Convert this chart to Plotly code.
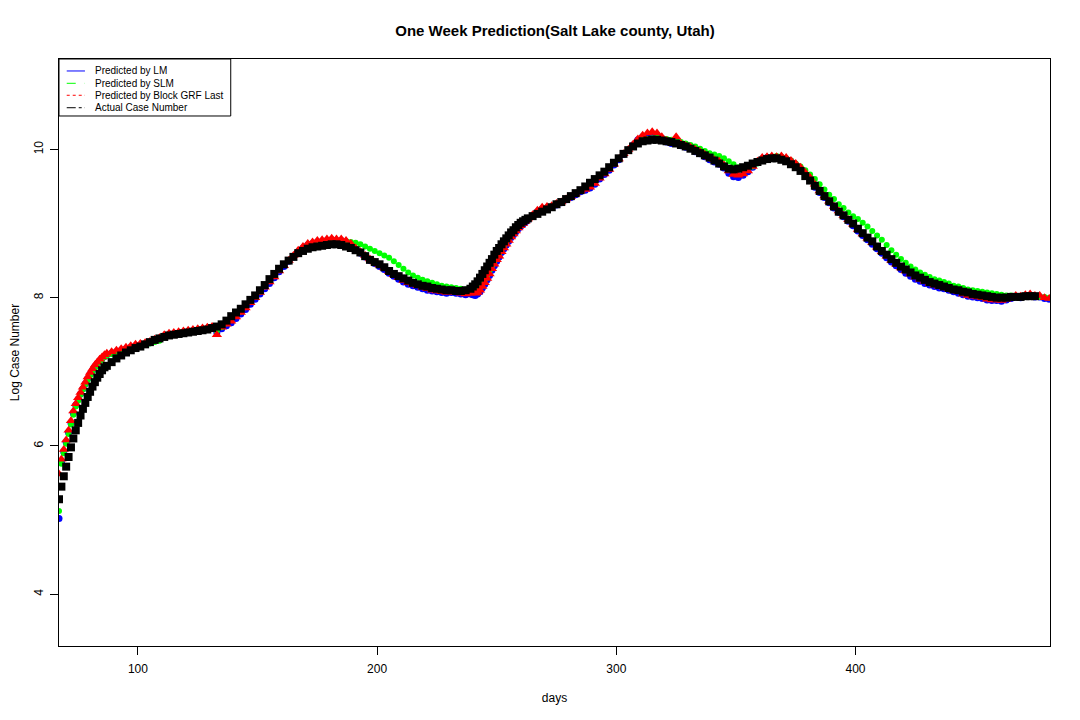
import plotly.graph_objects as go

# days: daily at the start, then every second day
days_actual = list(range(67, 87)) + list(range(87, 476, 2))
days_pred = list(range(67, 87)) + list(range(87, 482, 2))
# extra even days on the steep rise after day 240
days_rise = [240, 242, 244, 246, 248, 250, 252, 254, 256, 258, 260, 262]

# actual log case number
actual = [5.28, 5.45, 5.59, 5.72, 5.85, 5.98, 6.10, 6.21, 6.31, 6.41,
          6.50, 6.58, 6.66, 6.73, 6.80, 6.86, 6.92, 6.97, 7.02, 7.06,
          7.08, 7.13, 7.18, 7.22, 7.26, 7.29, 7.32, 7.34, 7.37, 7.40,
          7.43, 7.45, 7.47, 7.49, 7.50, 7.51, 7.52, 7.53, 7.54, 7.55,
          7.56, 7.57, 7.59, 7.61, 7.64, 7.69, 7.75, 7.80, 7.85, 7.91,
          7.97, 8.03, 8.10, 8.17, 8.25, 8.32, 8.39, 8.45, 8.50, 8.55,
          8.60, 8.63, 8.66, 8.68, 8.69, 8.70, 8.71, 8.72, 8.72, 8.71,
          8.69, 8.67, 8.64, 8.61, 8.56, 8.51, 8.48, 8.45, 8.41, 8.36,
          8.32, 8.29, 8.26, 8.23, 8.20, 8.18, 8.16, 8.15, 8.13, 8.12,
          8.11, 8.10, 8.10, 8.09, 8.09, 8.10, 8.12, 8.18, 8.27, 8.37,
          8.47, 8.58, 8.67, 8.76, 8.84, 8.91, 8.98, 9.03, 9.07, 9.10,
          9.13, 9.16, 9.19, 9.22, 9.26, 9.29, 9.33, 9.37, 9.41, 9.45,
          9.50, 9.55, 9.60, 9.65, 9.70, 9.76, 9.82, 9.88, 9.94, 9.99,
          10.04, 10.08, 10.11, 10.12, 10.13, 10.13, 10.12, 10.11, 10.10, 10.08,
          10.06, 10.04, 10.01, 9.98, 9.95, 9.92, 9.89, 9.85, 9.81, 9.77,
          9.74, 9.73, 9.74, 9.76, 9.78, 9.81, 9.83, 9.85, 9.87, 9.88,
          9.88, 9.86, 9.84, 9.80, 9.76, 9.71, 9.64, 9.58, 9.51, 9.44,
          9.37, 9.30, 9.23, 9.16, 9.11, 9.05, 9.00, 8.93, 8.87, 8.81,
          8.76, 8.69, 8.63, 8.58, 8.52, 8.47, 8.42, 8.38, 8.34, 8.30,
          8.27, 8.24, 8.21, 8.19, 8.17, 8.15, 8.13, 8.11, 8.10, 8.08,
          8.07, 8.05, 8.04, 8.03, 8.02, 8.01, 8.00, 8.00, 8.00, 8.01,
          8.01, 8.01, 8.02, 8.02, 8.02]
actual_rise = [8.15, 8.22, 8.32, 8.42, 8.52, 8.63, 8.72, 8.80, 8.88, 8.95, 9.01, 9.05]

# predicted by block GRF last
pred_grf = [5.62, 5.82, 5.95, 6.08, 6.21, 6.34, 6.47, 6.57, 6.65, 6.72,
            6.79, 6.86, 6.93, 6.99, 7.04, 7.09, 7.13, 7.17, 7.20, 7.23,
            7.25, 7.27, 7.29, 7.31, 7.33, 7.35, 7.37, 7.38, 7.39, 7.41,
            7.44, 7.46, 7.50, 7.52, 7.53, 7.54, 7.55, 7.56, 7.57, 7.58,
            7.59, 7.60, 7.61, 7.50, 7.60, 7.64, 7.68, 7.74, 7.80, 7.86,
            7.93, 8.00, 8.07, 8.14, 8.21, 8.28, 8.36, 8.43, 8.50, 8.57,
            8.64, 8.69, 8.73, 8.75, 8.77, 8.78, 8.79, 8.80, 8.79, 8.79,
            8.77, 8.73, 8.67, 8.62, 8.57, 8.52, 8.48, 8.44, 8.40, 8.35,
            8.31, 8.27, 8.23, 8.20, 8.18, 8.16, 8.14, 8.12, 8.10, 8.09,
            8.08, 8.07, 8.08, 8.07, 8.06, 8.05, 8.06, 8.06, 8.10, 8.20,
            8.32, 8.45, 8.56, 8.67, 8.77, 8.86, 8.94, 9.00, 9.06, 9.12,
            9.18, 9.22, 9.23, 9.24, 9.27, 9.29, 9.33, 9.36, 9.40, 9.44,
            9.46, 9.49, 9.54, 9.61, 9.67, 9.73, 9.80, 9.87, 9.94, 10.00,
            10.07, 10.14, 10.19, 10.22, 10.24, 10.22, 10.17, 10.12, 10.10, 10.17,
            10.08, 10.05, 10.03, 10.00, 9.97, 9.93, 9.89, 9.86, 9.84, 9.79,
            9.71, 9.66, 9.65, 9.67, 9.71, 9.77, 9.84, 9.89, 9.90, 9.91,
            9.90, 9.91, 9.89, 9.85, 9.81, 9.76, 9.69, 9.62, 9.53, 9.44,
            9.37, 9.30, 9.23, 9.17, 9.11, 9.05, 8.99, 8.92, 8.86, 8.80,
            8.74, 8.68, 8.62, 8.56, 8.50, 8.45, 8.40, 8.36, 8.32, 8.28,
            8.25, 8.22, 8.19, 8.17, 8.15, 8.14, 8.12, 8.10, 8.08, 8.05,
            8.03, 8.02, 8.01, 8.00, 7.98, 7.97, 7.97, 7.96, 7.98, 8.00,
            8.03, 8.02, 8.04, 8.05, 8.03, 8.03, 8.00, 7.99]
grf_rise = [8.07, 8.07, 8.15, 8.26, 8.39, 8.51, 8.62, 8.72, 8.82, 8.90, 8.97, 9.03]

# predicted by LM
pred_lm = [5.02, 5.78, 5.92, 6.05, 6.18, 6.31, 6.44, 6.55, 6.63, 6.70,
           6.77, 6.84, 6.91, 6.97, 7.02, 7.07, 7.11, 7.15, 7.18, 7.21,
           7.23, 7.25, 7.27, 7.29, 7.31, 7.33, 7.35, 7.36, 7.37, 7.39,
           7.42, 7.44, 7.48, 7.50, 7.51, 7.52, 7.53, 7.54, 7.55, 7.56,
           7.57, 7.58, 7.59, 7.53, 7.58, 7.62, 7.66, 7.72, 7.78, 7.84,
           7.91, 7.98, 8.05, 8.12, 8.19, 8.27, 8.35, 8.42, 8.49, 8.55,
           8.62, 8.67, 8.71, 8.73, 8.75, 8.76, 8.77, 8.78, 8.77, 8.77,
           8.75, 8.71, 8.65, 8.60, 8.55, 8.50, 8.46, 8.42, 8.38, 8.33,
           8.29, 8.25, 8.21, 8.18, 8.16, 8.14, 8.12, 8.10, 8.09, 8.08,
           8.07, 8.06, 8.07, 8.06, 8.05, 8.04, 8.05, 8.03, 8.08, 8.18,
           8.30, 8.43, 8.55, 8.66, 8.76, 8.85, 8.93, 8.99, 9.05, 9.10,
           9.16, 9.20, 9.21, 9.22, 9.25, 9.28, 9.32, 9.35, 9.39, 9.43,
           9.45, 9.48, 9.53, 9.60, 9.66, 9.72, 9.79, 9.86, 9.93, 9.99,
           10.06, 10.13, 10.17, 10.19, 10.20, 10.19, 10.15, 10.10, 10.08, 10.10,
           10.05, 10.03, 10.01, 9.97, 9.94, 9.90, 9.86, 9.83, 9.80, 9.75,
           9.68, 9.63, 9.62, 9.65, 9.70, 9.76, 9.82, 9.87, 9.89, 9.89,
           9.88, 9.89, 9.87, 9.84, 9.79, 9.73, 9.66, 9.60, 9.49, 9.42,
           9.35, 9.28, 9.21, 9.15, 9.09, 9.03, 8.97, 8.90, 8.84, 8.78,
           8.72, 8.66, 8.60, 8.54, 8.48, 8.43, 8.38, 8.33, 8.29, 8.25,
           8.22, 8.19, 8.17, 8.15, 8.13, 8.12, 8.10, 8.08, 8.06, 8.04,
           8.02, 8.01, 8.00, 7.99, 7.97, 7.96, 7.96, 7.95, 7.97, 7.99,
           8.01, 8.00, 8.02, 8.03, 8.01, 8.01, 7.99, 7.98]
lm_rise = [8.04, 8.05, 8.13, 8.24, 8.37, 8.49, 8.61, 8.71, 8.81, 8.89, 8.96, 9.02]

# predicted by SLM
pred_slm = [5.12, 5.76, 5.90, 6.03, 6.16, 6.29, 6.42, 6.53, 6.61, 6.69,
            6.76, 6.83, 6.89, 6.95, 7.00, 7.05, 7.09, 7.13, 7.17, 7.20,
            7.22, 7.24, 7.26, 7.28, 7.30, 7.32, 7.34, 7.35, 7.37, 7.38,
            7.40, 7.42, 7.47, 7.50, 7.51, 7.52, 7.53, 7.54, 7.55, 7.56,
            7.57, 7.58, 7.59, 7.55, 7.60, 7.65, 7.70, 7.76, 7.81, 7.87,
            7.94, 8.01, 8.08, 8.15, 8.22, 8.29, 8.37, 8.44, 8.50, 8.56,
            8.62, 8.66, 8.69, 8.71, 8.73, 8.74, 8.75, 8.76, 8.76, 8.76,
            8.76, 8.75, 8.74, 8.72, 8.69, 8.66, 8.63, 8.60, 8.57, 8.54,
            8.49, 8.44, 8.39, 8.34, 8.30, 8.27, 8.24, 8.22, 8.20, 8.18,
            8.16, 8.15, 8.14, 8.13, 8.12, 8.11, 8.10, 8.09, 8.14, 8.24,
            8.36, 8.49, 8.60, 8.70, 8.80, 8.88, 8.96, 9.02, 9.07, 9.11,
            9.15, 9.18, 9.21, 9.23, 9.26, 9.29, 9.33, 9.37, 9.41, 9.45,
            9.48, 9.52, 9.57, 9.63, 9.69, 9.75, 9.81, 9.88, 9.94, 10.00,
            10.05, 10.10, 10.13, 10.14, 10.15, 10.16, 10.15, 10.14, 10.13, 10.12,
            10.10, 10.08, 10.06, 10.04, 10.01, 9.98, 9.95, 9.93, 9.91, 9.88,
            9.84, 9.80, 9.76, 9.74, 9.74, 9.77, 9.81, 9.85, 9.88, 9.90,
            9.91, 9.90, 9.88, 9.85, 9.81, 9.77, 9.72, 9.66, 9.60, 9.53,
            9.46, 9.39, 9.33, 9.26, 9.21, 9.15, 9.10, 9.06, 9.01, 8.96,
            8.90, 8.84, 8.78, 8.71, 8.64, 8.58, 8.52, 8.47, 8.42, 8.38,
            8.34, 8.31, 8.28, 8.25, 8.23, 8.21, 8.19, 8.16, 8.15, 8.13,
            8.11, 8.10, 8.09, 8.08, 8.07, 8.06, 8.05, 8.04, 8.03, 8.03,
            8.02, 8.02, 8.02, 8.02, 8.01, 8.01, 8.01, 8.00]
slm_rise = [8.10, 8.11, 8.19, 8.30, 8.43, 8.55, 8.65, 8.75, 8.84, 8.92, 8.99, 9.05]

x_ticks = [100, 200, 300, 400]
y_ticks = [4, 6, 8, 10]

legend_names = ["Predicted by LM", "Predicted by SLM",
                "Predicted by Block GRF Last", "Actual Case Number"]
legend_colors = ["#0000FF", "#00FF00", "#FF0000", "#000000"]
legend_dash = ["solid", "dash", "dot", "dashdot"]

FONT = "Liberation Sans, Arial, sans-serif"

fig = go.Figure()

# LM: blue dots (drawn first, mostly hidden)
fig.add_trace(go.Scatter(x=days_pred + days_rise, y=pred_lm + lm_rise, mode="markers",
                         marker=dict(symbol="circle", size=7, color="#0000FF"),
                         name="Predicted by LM", showlegend=False))
# SLM: green dots
fig.add_trace(go.Scatter(x=days_pred + days_rise, y=pred_slm + slm_rise, mode="markers",
                         marker=dict(symbol="circle", size=6, color="#00FF00"),
                         name="Predicted by SLM", showlegend=False))
# GRF: red triangles
fig.add_trace(go.Scatter(x=days_pred + days_rise, y=pred_grf + grf_rise, mode="markers",
                         marker=dict(symbol="triangle-up", size=9, color="#FF0000"),
                         name="Predicted by Block GRF Last", showlegend=False))
# actual: black squares on top
fig.add_trace(go.Scatter(x=days_actual + days_rise, y=actual + actual_rise, mode="markers",
                         marker=dict(symbol="square", size=8, color="#000000"),
                         name="Actual Case Number", showlegend=False))

# legend box drawn like the R legend (top-left, inside plot)
fig.add_shape(type="rect", xref="paper", yref="paper",
              x0=0, x1=0.1733, y0=0.9029, y1=1,
              line=dict(color="black", width=1), fillcolor="white")
row_y = [0.9796, 0.9586, 0.9382, 0.9170]
for name, col, dash, ry in zip(legend_names, legend_colors, legend_dash, row_y):
    fig.add_shape(type="line", xref="paper", yref="paper",
                  x0=0.0078, x1=0.0262, y0=ry, y1=ry,
                  line=dict(color=col, width=1, dash=dash))
    fig.add_annotation(x=0.0343, y=ry, xref="paper", yref="paper",
                       text=name, showarrow=False, xanchor="left",
                       yanchor="middle", font=dict(size=10, color="black", family=FONT))

# the page body adds 8px, so the margins are shifted by that amount
fig.update_layout(
    width=1080, height=720,
    margin=dict(l=51, r=38, t=51, b=82, autoexpand=False),
    paper_bgcolor="white", plot_bgcolor="white",
    font=dict(family=FONT, size=12, color="black"),
    title=dict(text="<b>One Week Prediction(Salt Lake county, Utah)</b>",
               x=0.5065, xanchor="center", y=0.968, yanchor="middle",
               font=dict(size=15, family=FONT, color="black")),
    showlegend=False,
)

fig.update_xaxes(range=[67, 481.3], tickvals=x_ticks, ticks="outside",
                 ticklen=8, tickcolor="black", showgrid=False, zeroline=False,
                 showline=True, mirror=True, linecolor="black", linewidth=1,
                 ticklabelstandoff=4, automargin=False,
                 title=dict(text="days", font=dict(size=12), standoff=18))
fig.update_yaxes(range=[3.30, 11.22], tickvals=y_ticks, ticks="outside",
                 ticklen=8, tickcolor="black", showgrid=False, zeroline=False,
                 showline=True, mirror=True, linecolor="black", linewidth=1,
                 tickangle=-90, ticklabelstandoff=2, automargin=False,
                 title=dict(text="Log Case Number", font=dict(size=12), standoff=19))

fig.write_html("out.html")
